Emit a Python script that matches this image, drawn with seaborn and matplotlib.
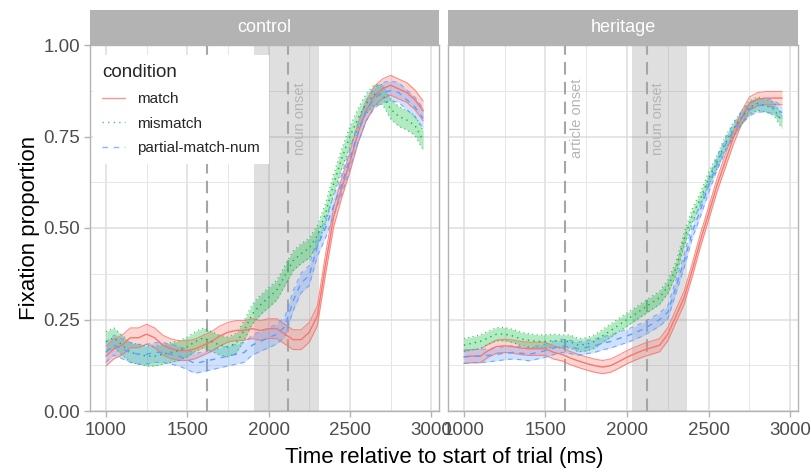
import numpy as np
import pandas as pd
import matplotlib.pyplot as plt
import matplotlib.ticker as mticker
from matplotlib.lines import Line2D
import seaborn as sns

# -----------------------------------
# Data
# -----------------------------------
time_ms = list(range(1000, 3000, 50))

groups = ["control", "heritage"]
conditions = ["match", "mismatch", "partial-match-num"]

control_match = [0.15, 0.17, 0.18, 0.20, 0.20, 0.21, 0.20, 0.18, 0.17, 0.165,
                 0.165, 0.17, 0.18, 0.19, 0.205, 0.215, 0.22, 0.22, 0.225, 0.22,
                 0.225, 0.225, 0.21, 0.195, 0.195, 0.215, 0.26, 0.40, 0.53, 0.61,
                 0.68, 0.76, 0.82, 0.86, 0.88, 0.89, 0.88, 0.87, 0.85, 0.82]
control_mismatch = [0.19, 0.20, 0.18, 0.16, 0.155, 0.15, 0.15, 0.155, 0.16, 0.165,
                    0.175, 0.19, 0.20, 0.19, 0.18, 0.175, 0.185, 0.22, 0.265, 0.29,
                    0.31, 0.33, 0.37, 0.41, 0.43, 0.445, 0.48, 0.54, 0.62, 0.69,
                    0.75, 0.80, 0.84, 0.865, 0.865, 0.825, 0.805, 0.795, 0.78, 0.74]
control_partial = [0.16, 0.18, 0.17, 0.16, 0.155, 0.155, 0.16, 0.16, 0.155, 0.15,
                   0.14, 0.13, 0.135, 0.14, 0.145, 0.15, 0.155, 0.16, 0.18, 0.19,
                   0.20, 0.21, 0.23, 0.30, 0.35, 0.37, 0.45, 0.50, 0.56, 0.62,
                   0.69, 0.76, 0.82, 0.855, 0.87, 0.875, 0.87, 0.85, 0.83, 0.80]

heritage_match = [0.148, 0.15, 0.15, 0.165, 0.176, 0.178, 0.176, 0.172, 0.17, 0.17,
                  0.17, 0.16, 0.155, 0.145, 0.137, 0.13, 0.124, 0.12, 0.124, 0.135,
                  0.147, 0.157, 0.166, 0.173, 0.18, 0.21, 0.26, 0.31, 0.386, 0.467,
                  0.54, 0.615, 0.68, 0.745, 0.80, 0.84, 0.852, 0.855, 0.855, 0.855]
heritage_mismatch = [0.18, 0.185, 0.19, 0.20, 0.21, 0.21, 0.205, 0.197, 0.193, 0.19,
                     0.19, 0.192, 0.19, 0.19, 0.18, 0.182, 0.19, 0.205, 0.22, 0.235,
                     0.25, 0.265, 0.28, 0.295, 0.31, 0.34, 0.39, 0.47, 0.535, 0.58,
                     0.635, 0.68, 0.73, 0.77, 0.80, 0.83, 0.84, 0.835, 0.825, 0.79]
heritage_partial = [0.148, 0.15, 0.15, 0.152, 0.155, 0.158, 0.16, 0.158, 0.155, 0.16,
                    0.165, 0.172, 0.178, 0.175, 0.17, 0.174, 0.178, 0.185, 0.19, 0.198,
                    0.205, 0.214, 0.224, 0.237, 0.25, 0.27, 0.34, 0.41, 0.49, 0.55,
                    0.615, 0.675, 0.725, 0.765, 0.80, 0.825, 0.835, 0.835, 0.83, 0.815]

# half width of the confidence band per group
ci_half = {"control": 0.027, "heritage": 0.018}

article_onset = 1620
noun_onset = 2120
noun_window = {"control": (1910, 2310), "heritage": (2030, 2370)}

series = {
    ("control", "match"): control_match,
    ("control", "mismatch"): control_mismatch,
    ("control", "partial-match-num"): control_partial,
    ("heritage", "match"): heritage_match,
    ("heritage", "mismatch"): heritage_mismatch,
    ("heritage", "partial-match-num"): heritage_partial,
}

rows = []
for (g, c), vals in series.items():
    for t, v in zip(time_ms, vals):
        rows.append({"group": g, "condition": c, "time": t, "prop": v,
                     "lo": v - ci_half[g], "hi": v + ci_half[g]})
df = pd.DataFrame(rows)

# -----------------------------------
# Style
# -----------------------------------
palette = {"match": "#F8766D", "mismatch": "#00BA38", "partial-match-num": "#619CFF"}
dashes = {"match": "", "mismatch": (1, 3), "partial-match-num": (4, 4)}

sns.set_theme(style="white")
plt.rcParams["font.family"] = ["Liberation Sans", "DejaVu Sans"]

W, H = 811, 472
fig = plt.figure(figsize=(W / 100, H / 100), dpi=100)


def px_axes(x0, y0, x1, y1):
    return fig.add_axes([x0 / W, 1 - y1 / H, (x1 - x0) / W, (y1 - y0) / H])


panel_px = {"control": (90, 439), "heritage": (448, 798)}
top, bottom, strip_top = 45, 411, 10
border = "#B3B3B3"

for g in groups:
    x0, x1 = panel_px[g]
    ax = px_axes(x0, top, x1, bottom)
    sub = df[df["group"] == g]

    lo_w, hi_w = noun_window[g]
    ax.axvspan(lo_w, hi_w, color="#808080", alpha=0.25, lw=0, zorder=1)
    onsets = [noun_onset] if g == "control" else [article_onset, noun_onset]
    ax.axvline(article_onset, color="#A6A6A6", lw=1.5, dashes=(6, 3.5), zorder=1.5)
    ax.axvline(noun_onset, color="#A6A6A6", lw=1.5, dashes=(6, 3.5), zorder=1.5)
    for o in onsets:
        name = "noun onset" if o == noun_onset else "article onset"
        ax.text(o + 72, 0.8, name, rotation=90, ha="center", va="center",
                color="#B5B5B5", fontsize=10.5, zorder=1.6)

    for c in conditions:
        s = sub[sub["condition"] == c]
        col = palette[c]
        ax.fill_between(s["time"], s["lo"], s["hi"], color=col, alpha=0.3,
                        lw=0, zorder=2)
        for edge in ["lo", "hi"]:
            ln, = ax.plot(s["time"], s[edge], color=col, lw=0.8, alpha=0.8, zorder=2.5)
            if dashes[c]:
                ln.set_dashes(dashes[c])

    sns.lineplot(data=sub, x="time", y="prop", hue="condition", style="condition",
                 palette=palette, dashes=dashes, linewidth=1.0, ax=ax,
                 legend=False, zorder=3)

    ax.set_xlim(902.5, 3047.5)
    ax.set_ylim(0, 1)
    ax.xaxis.set_major_locator(mticker.FixedLocator([1000, 1500, 2000, 2500, 3000]))
    ax.xaxis.set_minor_locator(mticker.FixedLocator([1250, 1750, 2250, 2750]))
    ax.yaxis.set_major_locator(mticker.FixedLocator([0, 0.25, 0.5, 0.75, 1.0]))
    ax.yaxis.set_minor_locator(mticker.FixedLocator([0.125, 0.375, 0.625, 0.875]))
    ax.yaxis.set_major_formatter(mticker.FormatStrFormatter("%.2f"))
    ax.grid(which="major", color="#DEDEDE", lw=1.1, zorder=0)
    ax.grid(which="minor", color="#E6E6E6", lw=0.7, zorder=0)
    ax.set_axisbelow(True)
    ax.tick_params(which="major", length=4, width=1, color=border,
                   labelcolor="#4D4D4D", labelsize=13.5, pad=3,
                   bottom=True, left=(g == "control"))
    ax.tick_params(axis="x", which="major", pad=4)
    ax.tick_params(which="minor", length=0)
    if g != "control":
        ax.tick_params(labelleft=False)
    ax.set_xlabel("")
    ax.set_ylabel("")
    for sp in ax.spines.values():
        sp.set_color(border)
        sp.set_linewidth(1.0)

    strip = px_axes(x0, strip_top, x1, top)
    strip.set_facecolor(border)
    strip.set_xticks([])
    strip.set_yticks([])
    for sp in strip.spines.values():
        sp.set_visible(False)
    strip.text(0.5, 0.5, g, ha="center", va="center", color="white",
               fontsize=13, transform=strip.transAxes)

    if g == "control":
        handles = [Line2D([], [], color=palette[c], lw=1.0, alpha=0.75)
                   for c in conditions]
        for h, c in zip(handles, conditions):
            if dashes[c]:
                h.set_dashes(dashes[c])
        leg = ax.legend(handles, conditions, title="condition", loc="upper left",
                        bbox_to_anchor=(93 / W, 1 - 55 / H),
                        bbox_transform=fig.transFigure, borderaxespad=0,
                        frameon=True, fancybox=False, framealpha=1,
                        edgecolor="white", fontsize=11, title_fontsize=13.5,
                        handlelength=1.5, labelspacing=0.7, alignment="left",
                        borderpad=0.6)
        leg.get_frame().set_linewidth(0)
        leg.set_zorder(10)

fig.text((90 + 798) / 2 / W, 1 - 458 / H, "Time relative to start of trial (ms)",
         ha="center", va="center", fontsize=16, color="black")
fig.text(30 / W, 1 - 228 / H, "Fixation proportion", rotation=90,
         ha="center", va="center", fontsize=16, color="black")

plt.savefig("out.png", dpi=100)
